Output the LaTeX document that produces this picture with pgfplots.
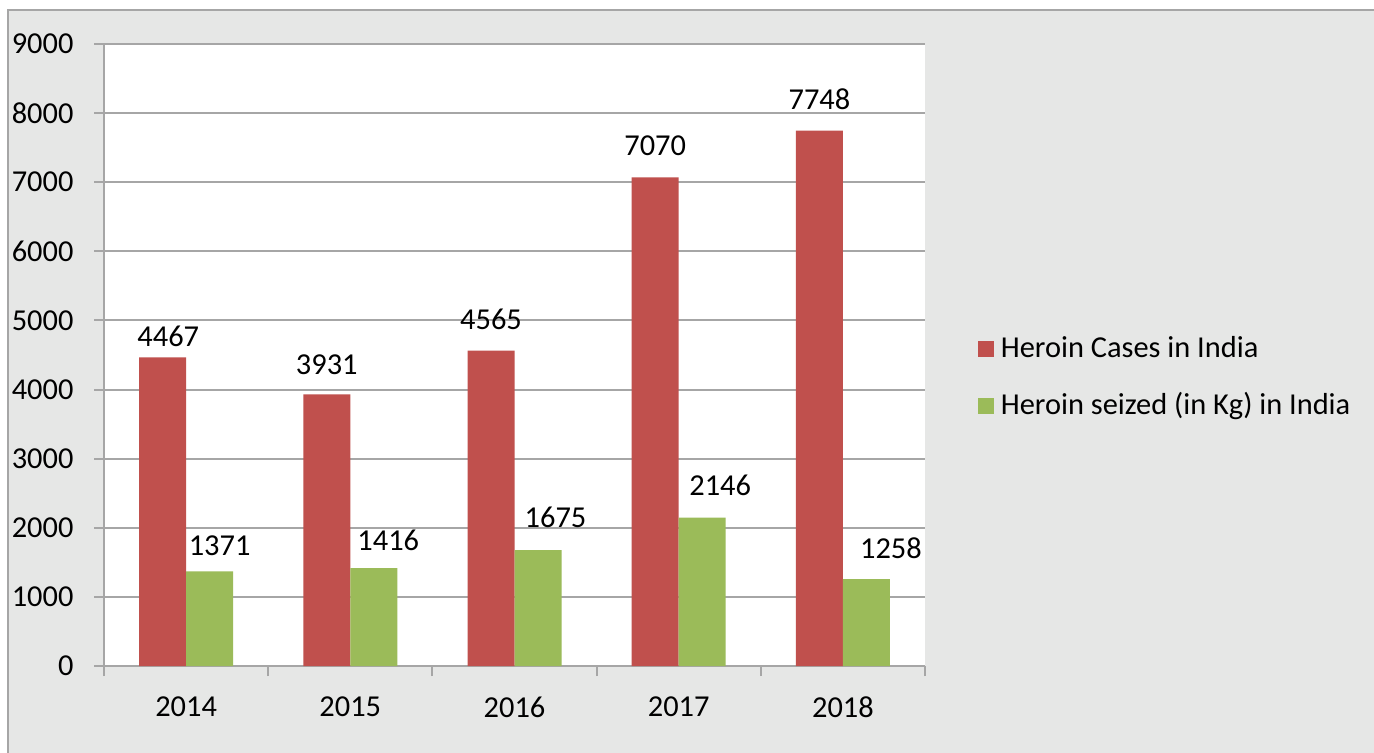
\documentclass[border=0pt]{standalone}
\usepackage{fontspec}
\setmainfont{Carlito}
\usepackage{pgfplots}
\pgfplotsset{compat=1.18}
\definecolor{bgc}{HTML}{E6E7E6}
\definecolor{brd}{HTML}{A6A6A6}
\definecolor{redb}{HTML}{C0504D}
\definecolor{greenb}{HTML}{9BBB59}
\begin{document}
\fontsize{15.2}{18}\selectfont
\begin{tikzpicture}
\useasboundingbox (0,0) rectangle (687pt,376pt);
\begin{scope}
\clip (0,0) rectangle (687pt,376pt);
\fill[bgc] (4pt,-10pt) rectangle (700pt,371pt);
\draw[brd, line width=1pt] (4pt,-10pt) -- (4pt,371pt) -- (700pt,371pt);
\end{scope}
\begin{axis}[
  at={(52pt,43pt)}, anchor=south west,
  scale only axis, width=410.5pt, height=311pt,
  axis background/.style={fill=white},
  ybar=0pt, bar width=23.5pt,
  xmin=-0.5, xmax=4.5, ymin=0, ymax=9000,
  xtick={-0.5,0.5,1.5,2.5,3.5,4.5},
  xticklabels={2014,2015,2016,2017,2018},
  x tick label as interval,
  ytick={0,1000,...,9000},
  axis lines*=left,
  axis line style={brd, line width=1pt},
  tick style={brd, line width=1pt},
  tick align=outside, major tick length=5pt,
  ymajorgrids, grid style={brd, line width=1pt},
  /pgf/number format/assume math mode=true,
  /pgf/number format/set thousands separator={},
  yticklabel style={xshift=-5pt},
  xticklabel style={yshift=-5pt},
  tick label style={font=\fontsize{15.2}{18}\selectfont, black},
  visualization depends on={\thisrow{dy} \as \dy},
  visualization depends on={\thisrow{dx} \as \dx},
  nodes near coords,
  nodes near coords style={font=\fontsize{15.2}{18}\selectfont, black, /pgf/number format/set thousands separator={}, yshift=\dy pt, xshift=\dx pt},
  legend style={at={(1.0566,0.5432)}, anchor=north west, draw=none, fill=none,
    font=\fontsize{15.2}{18}\selectfont, row sep=11pt, cells={anchor=west},
    /tikz/every odd column/.append style={column sep=1.5pt}},
  legend image code/.code={\fill[#1] (-2pt,-4pt) rectangle (6pt,4pt);},
]
\addplot[fill=redb, draw=none] table {
x y dy dx
0 4467 0 2.85
1 3931 4.5 0
2 4565 5 0
3 7070 5.5 0
4 7748 5 0
};
\addplot[fill=greenb, draw=none] table {
x y dy dx
0 1371 2.75 5
1 1416 3.5 7.25
2 1675 5.75 8.75
3 2146 5.5 9
4 1258 5 12.25
};
\legend{Heroin Cases in India, Heroin seized (in Kg) in India}
\end{axis}
\end{tikzpicture}
\end{document}
